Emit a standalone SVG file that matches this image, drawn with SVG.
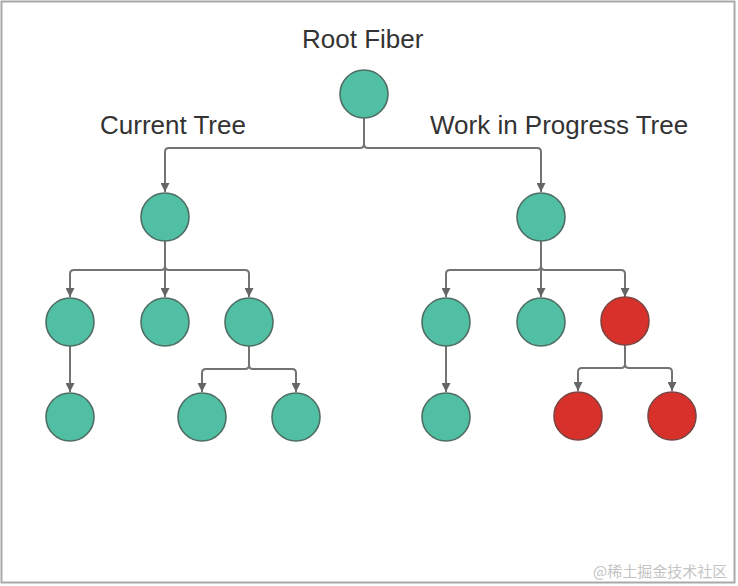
<svg xmlns="http://www.w3.org/2000/svg" width="738" height="586" viewBox="0 0 738 586">
<defs>
<style>
.lbl{font-family:"Liberation Sans",Arial,sans-serif;font-size:26px;fill:#333}
.g{fill:#50bfa4;stroke:#4f6d63;stroke-width:1.6}
.r{fill:#d8302a;stroke:#7d4440;stroke-width:1.6}
.c{fill:none;stroke:#737373;stroke-width:2;stroke-linejoin:round}
.wm{font-family:"Noto Sans CJK SC",sans-serif;font-size:15px;fill:#c4c4c4}
</style>
<marker id="ah" viewBox="0 0 10 10" refX="10" refY="5" markerWidth="4.5" markerHeight="4.5" markerUnits="strokeWidth" orient="auto">
<path d="M0,0 L10,5 L0,10 z" fill="#666"/>
</marker>
</defs>
<rect width="738" height="586" fill="#fff"/>
<rect x="1.5" y="1.5" width="733" height="581" fill="none" stroke="#a8a8a8" stroke-width="2"/>
<text class="lbl" x="302" y="48">Root Fiber</text>
<text class="lbl" x="100" y="134">Current Tree</text>
<text class="lbl" x="430" y="134">Work in Progress Tree</text>
<g id="connectors">
<path class="c" d="M364,118 V144 Q364,148 360,148 H169 Q165,148 165,152 V192" marker-end="url(#ah)"/>
<path class="c" d="M364,144 Q364,148 368,148 H537 Q541,148 541,152 V192" marker-end="url(#ah)"/>
<path class="c" d="M165,241 V266 Q165,270 161,270 H74 Q70,270 70,274 V297" marker-end="url(#ah)"/>
<path class="c" d="M165,266 V297" marker-end="url(#ah)"/>
<path class="c" d="M165,266 Q165,270 169,270 H245 Q249,270 249,274 V297" marker-end="url(#ah)"/>
<path class="c" d="M541,241 V266 Q541,270 537,270 H450 Q446,270 446,274 V297" marker-end="url(#ah)"/>
<path class="c" d="M541,266 V297" marker-end="url(#ah)"/>
<path class="c" d="M541,266 Q541,270 545,270 H621 Q625,270 625,274 V297" marker-end="url(#ah)"/>
<path class="c" d="M70,346 V392" marker-end="url(#ah)"/>
<path class="c" d="M446,346 V392" marker-end="url(#ah)"/>
<path class="c" d="M249,346 V365 Q249,369 245,369 H206 Q202,369 202,373 V392" marker-end="url(#ah)"/>
<path class="c" d="M249,365 Q249,369 253,369 H292 Q296,369 296,373 V392" marker-end="url(#ah)"/>
<path class="c" d="M625,345 V364 Q625,368 621,368 H582 Q578,368 578,372 V391" marker-end="url(#ah)"/>
<path class="c" d="M625,364 Q625,368 629,368 H668 Q672,368 672,372 V391" marker-end="url(#ah)"/>
</g>
<g id="root"><circle class="g" cx="364" cy="94" r="24"/></g>
<g id="cur"><circle class="g" cx="165" cy="217" r="24"/></g>
<g id="wip"><circle class="g" cx="541" cy="217" r="24"/></g>
<g id="cur-a"><circle class="g" cx="70" cy="322" r="24"/></g>
<g id="cur-b"><circle class="g" cx="165" cy="322" r="24"/></g>
<g id="cur-c"><circle class="g" cx="249" cy="322" r="24"/></g>
<g id="wip-a"><circle class="g" cx="446" cy="322" r="24"/></g>
<g id="wip-b"><circle class="g" cx="541" cy="322" r="24"/></g>
<g id="wip-c"><circle class="r" cx="625" cy="321" r="24"/></g>
<g id="cur-a1"><circle class="g" cx="70" cy="417" r="24"/></g>
<g id="cur-c1"><circle class="g" cx="202" cy="417" r="24"/></g>
<g id="cur-c2"><circle class="g" cx="296" cy="417" r="24"/></g>
<g id="wip-a1"><circle class="g" cx="446" cy="417" r="24"/></g>
<g id="wip-c1"><circle class="r" cx="578" cy="416" r="24"/></g>
<g id="wip-c2"><circle class="r" cx="672" cy="416" r="24"/></g>
<text class="wm" x="593" y="577">@稀土掘金技术社区</text>
</svg>
